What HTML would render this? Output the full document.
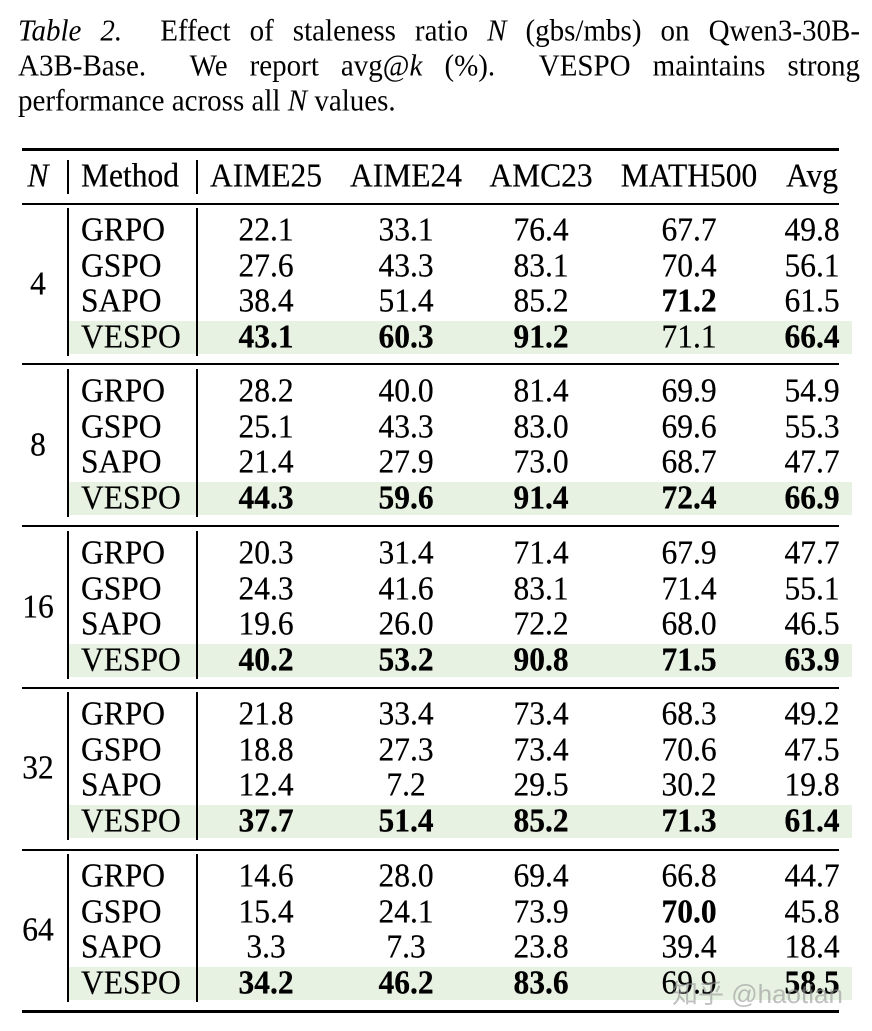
<!DOCTYPE html>
<html><head><meta charset="utf-8"><style>
body{margin:0;width:872px;height:1031px;background:#fff;position:relative;overflow:hidden;font-family:"Liberation Serif",serif;color:#000}
.cap{position:absolute;left:18px;width:842px;font-size:29px;line-height:34px;text-align:justify;text-align-last:justify;white-space:nowrap;transform:scaleY(1.05)}
.r{position:absolute;left:22px;width:817px;background:#000}
.v{position:absolute;width:1.5px;background:#000}
.t{position:absolute;font-size:31.5px;line-height:36px;transform:translateX(-50%) scaleY(1.07);white-space:nowrap;text-shadow:0 0 0.4px #000}
.m{position:absolute;font-size:31.5px;line-height:36px;left:81px;transform:scaleY(1.07);text-shadow:0 0 0.4px #000}
.g{position:absolute;left:68px;width:784px;height:33px;background:#e8f2e3}
b{font-weight:bold}
.wm{position:absolute;left:672px;top:974px;font-family:"Liberation Sans","Noto Sans CJK SC",sans-serif;font-size:26px;color:rgba(150,150,150,0.6)}
</style></head><body>
<div class="cap" style="top:14px"><i>Table 2.</i>&nbsp; Effect of staleness ratio <i>N</i> (gbs/mbs) on Qwen3-30B-</div>
<div class="cap" style="top:49px">A3B-Base.&nbsp; We report avg@<i>k</i> (%).&nbsp; VESPO maintains strong</div>
<div class="cap" style="top:84px;text-align-last:left">performance across all <i>N</i> values.</div>
<div id="tbl"></div>
<div class="wm">知乎 @haotian</div>
<script>
const rules=[[148,3],[203,1.5],[363,1.5],[525,1.5],[687,1.5],[849,1.5],[1010,3]];
let h='';
for(const[y,t] of rules)h+=`<div class="r" style="top:${y}px;height:${t}px"></div>`;
h+=`<div class="v" style="left:67px;top:160px;height:34px"></div><div class="v" style="left:196px;top:160px;height:34px"></div>`;
const cx=[266,406,541,689,812];
const hd=['AIME25','AIME24','AMC23','MATH500','Avg'];
h+=`<div class="t" style="left:38px;top:158px"><i>N</i></div><div class="m" style="top:158px">Method</div>`;
hd.forEach((s,i)=>h+=`<div class="t" style="left:${cx[i]}px;top:158px">${s}</div>`);
const G=[['4',212,[['GRPO','22.1','33.1','76.4','67.7','49.8'],['GSPO','27.6','43.3','83.1','70.4','56.1'],['SAPO','38.4','51.4','85.2','*71.2','61.5'],['VESPO','*43.1','*60.3','*91.2','71.1','*66.4']]],
['8',373,[['GRPO','28.2','40.0','81.4','69.9','54.9'],['GSPO','25.1','43.3','83.0','69.6','55.3'],['SAPO','21.4','27.9','73.0','68.7','47.7'],['VESPO','*44.3','*59.6','*91.4','*72.4','*66.9']]],
['16',535,[['GRPO','20.3','31.4','71.4','67.9','47.7'],['GSPO','24.3','41.6','83.1','71.4','55.1'],['SAPO','19.6','26.0','72.2','68.0','46.5'],['VESPO','*40.2','*53.2','*90.8','*71.5','*63.9']]],
['32',696,[['GRPO','21.8','33.4','73.4','68.3','49.2'],['GSPO','18.8','27.3','73.4','70.6','47.5'],['SAPO','12.4','7.2','29.5','30.2','19.8'],['VESPO','*37.7','*51.4','*85.2','*71.3','*61.4']]],
['64',858,[['GRPO','14.6','28.0','69.4','66.8','44.7'],['GSPO','15.4','24.1','73.9','*70.0','45.8'],['SAPO','3.3','7.3','23.8','39.4','18.4'],['VESPO','*34.2','*46.2','*83.6','69.9','*58.5']]]];
for(const[n,y0,rows] of G){
 h+=`<div class="g" style="top:${y0+3*35.7+2}px"></div>`;
 h+=`<div class="v" style="left:67px;top:${y0-4}px;height:148px"></div><div class="v" style="left:196px;top:${y0-4}px;height:148px"></div>`;
 h+=`<div class="t" style="left:38px;top:${y0+1.5*35.7}px">${n}</div>`;
 rows.forEach((r,i)=>{const y=y0+i*35.7;
  h+=`<div class="m" style="top:${y}px">${r[0]}</div>`;
  for(let j=1;j<6;j++){let s=r[j];if(s[0]=='*')s='<b>'+s.slice(1)+'</b>';h+=`<div class="t" style="left:${cx[j-1]}px;top:${y}px">${s}</div>`;}
 });
}
document.getElementById('tbl').innerHTML=h;
</script>
</body></html>
